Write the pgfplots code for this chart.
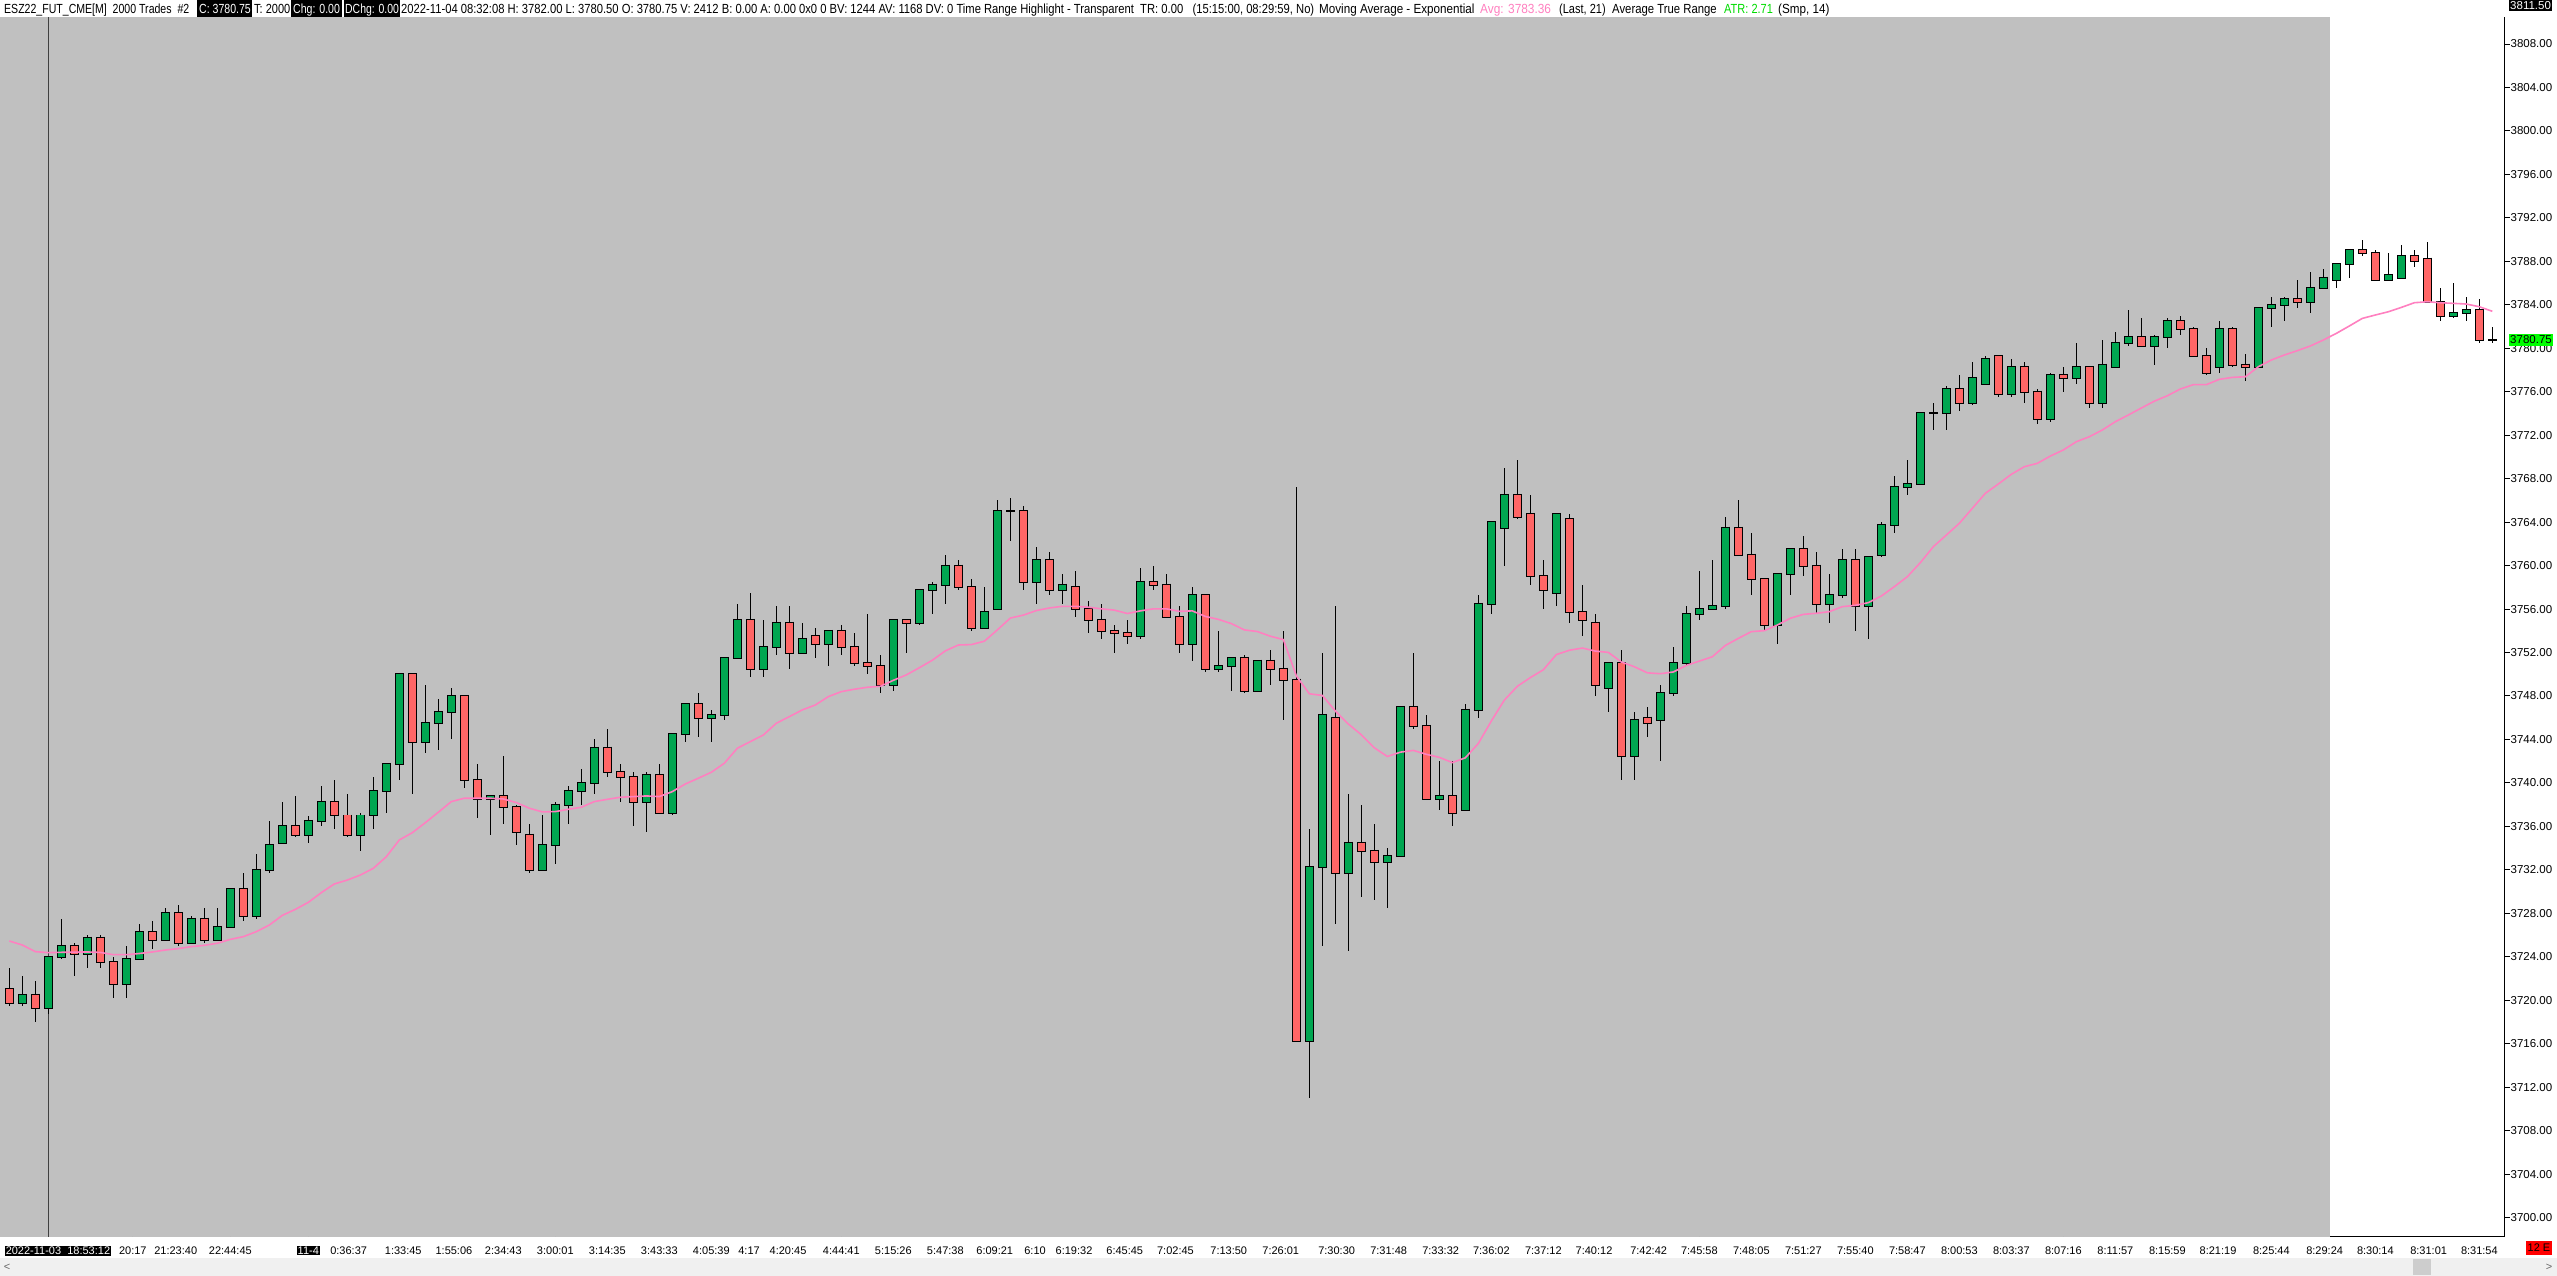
\documentclass[border=0pt]{standalone}
\usepackage{fontspec}
\setmainfont{Liberation Sans}
\usepackage{pgfplots}
\pgfplotsset{compat=1.18}
\usepackage{pgfplotstable}

\definecolor{bggray}{RGB}{192,192,192}
\definecolor{upgreen}{RGB}{0,166,81}
\definecolor{dnred}{RGB}{255,102,102}
\definecolor{emapink}{RGB}{255,128,192}
\definecolor{atrgreen}{RGB}{0,220,0}
\definecolor{cursorgray}{RGB}{64,64,64}
\definecolor{scrollbg}{RGB}{240,240,240}
\definecolor{thumbgray}{RGB}{205,205,205}

\newcommand\blk[1]{{\setlength\fboxsep{1pt}\colorbox{black}{\textcolor{white}{#1}}}}
\newcommand\hfont{\fontsize{11}{13}\selectfont}
% header text: stretched a little in height like the platform font
\newcommand\hdr[2]{\scalebox{#1}[1.2]{#2}}

% bar index, open, high, low, close, EMA(21)
\pgfplotstableread{
i o h l c e
0 3721 3723 3719.5 3719.75 3725.45
1 3719.75 3722.25 3719.5 3720.5 3725.08
2 3720.5 3721.75 3718 3719.25 3724.47
3 3719.25 3724 3718.75 3724 3724.38
4 3724 3727.5 3723.75 3725 3724.41
5 3725 3725.25 3722.25 3724.25 3724.43
6 3724.25 3726 3723 3725.75 3724.44
7 3725.75 3726 3723 3723.5 3724.40
8 3723.5 3724 3720.25 3721.5 3724.19
9 3721.5 3725 3720.25 3723.75 3724.19
10 3723.75 3727 3723.75 3726.25 3724.30
11 3726.25 3727.25 3724.75 3725.5 3724.44
12 3725.5 3728.5 3725.5 3728 3724.62
13 3728 3728.75 3725 3725.25 3724.75
14 3725.25 3727.75 3725.25 3727.5 3724.93
15 3727.5 3728.5 3725.25 3725.5 3725.05
16 3725.5 3728.5 3725.5 3726.75 3725.24
17 3726.75 3730.25 3726.75 3730.25 3725.60
18 3730.25 3731.75 3727.25 3727.75 3725.85
19 3727.75 3733.5 3727.5 3732 3726.31
20 3732 3736.5 3731.75 3734.25 3726.92
21 3734.5 3738.25 3734.5 3736 3727.81
22 3736 3738.75 3735 3735.25 3728.36
23 3735.25 3737 3734.5 3736.5 3729.01
24 3736.5 3739.75 3736 3738.25 3729.90
25 3738.25 3740.25 3735.75 3737 3730.70
26 3737 3739 3735 3735.25 3731.06
27 3735.25 3737.25 3733.75 3737 3731.52
28 3737 3740.5 3735.75 3739.25 3732.14
29 3739.25 3741.75 3737.25 3741.75 3733.21
30 3741.75 3750 3740.25 3750 3734.75
31 3750 3750 3739 3743.75 3735.42
32 3743.75 3749 3742.75 3745.5 3736.34
33 3745.5 3747.75 3743 3746.5 3737.30
34 3746.5 3748.75 3744 3748 3738.28
35 3748 3748 3739.5 3740.25 3738.59
36 3740.25 3741.75 3736.75 3738.5 3738.59
37 3738.5 3738.75 3735.25 3738.75 3738.59
38 3738.75 3742.5 3736.25 3737.75 3738.52
39 3737.75 3738 3734.25 3735.5 3738.19
40 3735.25 3736.25 3731.75 3732 3737.67
41 3732 3737 3732 3734.25 3737.33
42 3734.25 3738.25 3732.5 3738 3737.36
43 3738 3739.75 3736.25 3739.25 3737.57
44 3739.25 3741.25 3738 3740 3737.76
45 3740 3744 3739 3743.25 3738.28
46 3743.25 3745 3740.5 3741 3738.49
47 3741 3741.75 3738.25 3740.5 3738.68
48 3740.5 3741 3736 3738.25 3738.74
49 3738.25 3741 3735.5 3740.75 3738.80
50 3740.75 3741.75 3737.25 3737.25 3738.74
51 3737.25 3744.5 3737 3744.5 3739.20
52 3744.5 3747.25 3743.75 3747.25 3739.90
53 3747.25 3748.25 3744.25 3746 3740.43
54 3746 3746.75 3743.75 3746.25 3740.98
55 3746.25 3751.5 3745.75 3751.5 3741.81
56 3751.5 3756.5 3751.5 3755 3743.19
57 3755 3757.5 3749.75 3750.5 3743.80
58 3750.5 3755 3749.75 3752.5 3744.41
59 3752.5 3756.25 3751.75 3754.75 3745.49
60 3754.75 3756.25 3750.5 3752 3746.10
61 3752 3754.75 3752 3753.25 3746.72
62 3753.5 3754.25 3751.5 3752.75 3747.17
63 3752.75 3754 3750.75 3754 3747.94
64 3754 3754.5 3751.75 3752.5 3748.40
65 3752.5 3753.75 3750.75 3751 3748.62
66 3751 3755.5 3750 3750.75 3748.80
67 3750.75 3751.75 3748.25 3749 3748.89
68 3749 3755 3748.5 3755 3749.44
69 3755 3755 3752 3754.75 3749.94
70 3754.75 3757.75 3754.5 3757.75 3750.60
71 3757.75 3758.5 3755.5 3758.25 3751.29
72 3758.25 3761 3756.5 3760 3752.15
73 3760 3760.5 3757.75 3758 3752.69
74 3758 3758.75 3754 3754.25 3752.73
75 3754.25 3758 3754.25 3755.75 3753.04
76 3756 3766 3756 3765 3754.08
77 3765 3766.25 3762.25 3765 3755.17
78 3765 3765.5 3757.75 3758.5 3755.44
79 3758.5 3761.75 3756.5 3760.5 3755.86
80 3760.5 3761.25 3757.25 3757.75 3756.10
81 3757.75 3759.25 3756.5 3758.25 3756.25
82 3758 3759.5 3755.25 3756 3756.25
83 3756 3756.75 3753.75 3755 3756.17
84 3755 3756.5 3753.25 3754 3756.02
85 3754 3754.5 3752 3753.75 3755.90
86 3753.75 3755 3752.75 3753.5 3755.59
87 3753.5 3759.75 3753.25 3758.5 3755.83
88 3758.5 3760 3757.75 3758.25 3756.02
89 3758.25 3759.25 3755.25 3755.25 3756.02
90 3755.25 3756.25 3752 3752.75 3755.79
91 3752.75 3758 3751.25 3757.25 3755.83
92 3757.25 3757.25 3750.25 3750.5 3755.32
93 3750.5 3754 3750.25 3750.75 3755.05
94 3750.75 3751.5 3748.5 3751.5 3754.66
95 3751.5 3751.75 3748.25 3748.5 3754.08
96 3748.5 3751.25 3748.5 3751.25 3753.93
97 3751.25 3752.25 3749 3750.5 3753.50
98 3750.5 3754 3745.75 3749.5 3753.19
99 3749.5 3767.25 3716.25 3716.25 3749.85
100 3716.25 3735.75 3711 3732.25 3748.20
101 3732.25 3752 3725 3746.25 3748.05
102 3746 3756.25 3727 3731.75 3746.62
103 3731.75 3739 3724.5 3734.5 3745.42
104 3734.5 3738 3729.5 3733.75 3744.43
105 3733.75 3736.25 3729.25 3732.75 3743.23
106 3732.75 3734 3728.5 3733.25 3742.43
107 3733.25 3747 3733.25 3747 3742.83
108 3747 3752 3745 3745.25 3742.99
109 3745.25 3746.25 3738.5 3738.5 3742.63
110 3738.5 3742 3737.5 3738.75 3742.35
111 3738.75 3742 3736 3737.25 3741.87
112 3737.5 3747.25 3737.5 3746.75 3742.31
113 3746.75 3757.25 3746 3756.5 3743.63
114 3756.5 3764 3755.5 3764 3745.70
115 3763.5 3769 3760 3766.5 3747.62
116 3766.5 3769.75 3764.25 3764.5 3748.89
117 3764.75 3766.5 3758.25 3759 3749.69
118 3759 3760.5 3756 3757.75 3750.41
119 3757.5 3764.75 3756.25 3764.75 3751.81
120 3764.25 3764.75 3754.75 3755.75 3752.21
121 3755.75 3758.25 3753.5 3755 3752.41
122 3754.75 3755.5 3748 3749 3752.13
123 3748.75 3751 3746.5 3751 3752.01
124 3751 3752.25 3740.25 3742.5 3751.13
125 3742.5 3746.5 3740.25 3745.75 3750.69
126 3746 3747 3744.25 3745.5 3750.13
127 3745.75 3749 3742 3748.25 3750.05
128 3748.25 3752.5 3748 3751 3750.21
129 3751 3756.25 3750.75 3755.5 3750.81
130 3755.5 3759.5 3755 3756 3751.21
131 3756 3760.5 3756 3756.25 3751.61
132 3756.25 3764.5 3756 3763.5 3752.65
133 3763.5 3766 3761 3761 3753.30
134 3761 3763 3757.25 3758.75 3753.92
135 3758.75 3758.75 3754 3754.5 3754.01
136 3754.5 3759.25 3752.75 3759.25 3754.53
137 3759.25 3761.5 3757.25 3761.5 3755.15
138 3761.5 3762.75 3759 3760 3755.51
139 3760 3761.25 3755.5 3756.5 3755.61
140 3756.5 3759.25 3754.75 3757.25 3755.76
141 3757.25 3761.5 3757 3760.5 3756.22
142 3760.5 3761.5 3754 3756.25 3756.34
143 3756.25 3760.75 3753.25 3760.75 3756.59
144 3761 3764 3760.75 3763.75 3757.20
145 3763.75 3768.25 3763 3767.25 3758.06
146 3767.25 3769.75 3766.5 3767.5 3758.98
147 3767.5 3774 3767.5 3774 3760.27
148 3774 3775 3772.5 3774 3761.74
149 3774 3776.5 3772.5 3776.25 3762.81
150 3776.25 3777.5 3774.25 3775 3763.89
151 3775 3778.75 3774.75 3777.25 3765.27
152 3776.75 3779.25 3776.75 3779 3766.65
153 3779.25 3779.25 3775.5 3775.75 3767.51
154 3775.75 3779 3775.5 3778.25 3768.40
155 3778.25 3778.75 3775 3776 3769.10
156 3776 3776.25 3773 3773.5 3769.41
157 3773.5 3777.75 3773.25 3777.5 3770.08
158 3777.5 3778.25 3776 3777.25 3770.64
159 3777.25 3780.5 3776.75 3778.25 3771.40
160 3778.25 3778.25 3774.5 3775 3771.86
161 3775 3780.75 3774.5 3778.5 3772.48
162 3778.25 3781.5 3778.25 3780.5 3773.24
163 3780.5 3783.5 3780.25 3781 3773.86
164 3781 3782.75 3780.25 3780.25 3774.50
165 3780.25 3781.25 3778.5 3781 3775.13
166 3781 3782.75 3780 3782.5 3775.63
167 3782.5 3783 3781.25 3781.75 3776.25
168 3781.75 3782 3779.25 3779.25 3776.65
169 3779.25 3780 3777.5 3777.75 3776.65
170 3778.25 3782.5 3777.75 3781.75 3777.14
171 3781.75 3782 3778.25 3778.5 3777.32
172 3778.5 3779.5 3777 3778.25 3777.38
173 3778.25 3783.75 3778.25 3783.75 3778.30
174 3783.75 3784.75 3782 3784 3778.92
175 3784 3784.75 3782.5 3784.5 3779.38
176 3784.5 3786.25 3783.75 3784.25 3779.78
177 3784.25 3787 3783.25 3785.5 3780.21
178 3785.5 3787.25 3785.5 3786.5 3780.76
179 3786.25 3787.75 3785.5 3787.75 3781.37
180 3787.75 3789 3786.5 3789 3782.05
181 3789 3790 3788.5 3788.75 3782.75
182 3788.75 3789 3786.25 3786.25 3783.06
183 3786.25 3788.75 3786.25 3786.75 3783.36
184 3786.5 3789.5 3786.5 3788.5 3783.76
185 3788.5 3789 3787.5 3788 3784.19
186 3788.25 3789.75 3784.25 3784.25 3784.28
187 3784.25 3785.5 3782.5 3783 3784.19
188 3783 3786 3782.75 3783.25 3784.13
189 3783.25 3784.75 3782.5 3783.5 3784.07
190 3783.5 3784.5 3780.5 3780.75 3783.82
191 3780.75 3782 3780.5 3780.75 3783.40
}\bars

\begin{document}
\begin{tikzpicture}[x=1pt,y=1pt]
\fill[white] (0,0) rectangle (2557,1276);

% scroll bar strip
\fill[scrollbg] (0,0) rectangle (2557,18);
\fill[thumbgray] (2413,1) rectangle (2431,17);
\node[text=black!60, font=\hfont] at (7,9) {\textless};
\node[text=black!60, font=\hfont] at (2549,9) {\textgreater};

\begin{axis}[
  at={(0pt,39pt)}, anchor=south west,
  x=13pt, y=10.866pt,
  xmin=-0.718, xmax=191.97,
  ymin=3698.21, ymax=3810.49,
  axis x line=bottom, axis y line=right,
  axis line style={-, black, line width=1pt},
  tick align=outside,
  ytick={3700,3704,...,3808},
  ytick style={black, line width=1pt},
  major tick length=5pt,
  yticklabel style={font=\fontsize{11.5}{13}\selectfont, anchor=west, inner sep=0pt, xshift=0.5pt},
  /pgf/number format/.cd, fixed, fixed zerofill, precision=2, 1000 sep={}, assume math mode=true,
  /pgfplots/.cd,
  xtick style={draw=none},
  xtick={3.74,9.5,12.8,17,23,26.1,30.3,34.2,38,42,46,50,54,56.9,59.9,64,68,72,75.8,78.9,81.9,85.8,89.7,93.8,97.8,102.1,106.1,110.1,114,118,121.9,126.1,130,134,138,142,146,150,154,158,162,166,169.9,174,178.1,182,186.1,190},
  xticklabels={\blk{2022-11-03\ \ 18:53:12},20:17,21:23:40,22:44:45,\blk{11-4},0:36:37,1:33:45,1:55:06,2:34:43,3:00:01,3:14:35,3:43:33,4:05:39,4:17,4:20:45,4:44:41,5:15:26,5:47:38,6:09:21,6:10,6:19:32,6:45:45,7:02:45,7:13:50,7:26:01,7:30:30,7:31:48,7:33:32,7:36:02,7:37:12,7:40:12,7:42:42,7:45:58,7:48:05,7:51:27,7:55:40,7:58:47,8:00:53,8:03:37,8:07:16,8:11:57,8:15:59,8:21:19,8:25:44,8:29:24,8:30:14,8:31:01,8:31:54},
  xticklabel style={font=\fontsize{11}{13}\selectfont, anchor=base, yshift=-12.5pt},
]

% chart background (grey up to the session highlight end)
\fill[bggray] (axis cs:-0.718,3698.21) rectangle (axis cs:178.5,3810.49);

% cursor line
\draw[cursorgray, line width=1pt] (axis cs:3,3698.21) -- (axis cs:3,3810.49);

% wicks
\addplot[draw=none, mark=none, forget plot,
  error bars/.cd, y dir=both, y explicit, error mark=none,
  error bar style={draw=black, line width=1pt}]
  table[x=i, y=c, y error plus expr=\thisrow{h}-\thisrow{c},
        y error minus expr=\thisrow{c}-\thisrow{l}] {\bars};

% body outlines
\addplot[draw=none, mark=none, forget plot,
  error bars/.cd, y dir=minus, y explicit, error mark=none,
  error bar style={draw=black, line width=8.4pt}]
  table[x=i, y expr={max(\thisrow{o},\thisrow{c})+0.092},
        y error minus expr={abs(\thisrow{o}-\thisrow{c})+0.184}] {\bars};

% rising bodies
\addplot[draw=none, mark=none, forget plot, restrict x to domain=-1:200,
  error bars/.cd, y dir=minus, y explicit, error mark=none,
  error bar style={draw=upgreen, line width=6.4pt}]
  table[x expr={ifthenelse(\thisrow{c}>\thisrow{o},\thisrow{i},-100)}, y=c,
        y error minus expr={\thisrow{c}-\thisrow{o}}] {\bars};

% falling bodies
\addplot[draw=none, mark=none, forget plot, restrict x to domain=-1:200,
  error bars/.cd, y dir=minus, y explicit, error mark=none,
  error bar style={draw=dnred, line width=6.4pt}]
  table[x expr={ifthenelse(\thisrow{c}<\thisrow{o},\thisrow{i},-100)}, y=o,
        y error minus expr={\thisrow{o}-\thisrow{c}}] {\bars};

% exponential moving average
\addplot[emapink, line width=1.6pt, mark=none] table[x=i, y=e] {\bars};

% selected time-scale tick marks
\draw[black, line width=1pt] (axis cs:9.5,3698.21) -- ++(0pt,-5pt);
\draw[black, line width=1pt] (axis cs:17,3698.21) -- ++(0pt,-5pt);
\draw[black, line width=1pt] (axis cs:23,3698.21) -- ++(0pt,-5pt);
\draw[black, line width=1pt] (axis cs:42,3698.21) -- ++(0pt,-5pt);
\draw[black, line width=1pt] (axis cs:64,3698.21) -- ++(0pt,-5pt);
\draw[black, line width=1pt] (axis cs:130,3698.21) -- ++(0pt,-5pt);
\draw[black, line width=1pt] (axis cs:158,3698.21) -- ++(0pt,-5pt);
\draw[black, line width=1pt] (axis cs:186.1,3698.21) -- ++(0pt,-5pt);
\end{axis}

% price boxes on the scale
\node[fill=green, text=black, font=\fontsize{11.5}{13}\selectfont, inner xsep=1pt, inner ysep=1.5pt, anchor=west] at (2509,936) {3780.75};
\node[fill=black, text=white, font=\fontsize{11.5}{13}\selectfont, inner xsep=1pt, inner ysep=1.5pt, anchor=north west] at (2509,1276) {3811.50};
\node[fill=red, text=black, font=\hfont, inner xsep=2pt, inner ysep=3pt] at (2539,28) {12 E};

% header line
\fill[white] (0,1259) rectangle (2505,1276);
\fill[black] (197,1259) rectangle (252,1276);
\fill[black] (291,1259) rectangle (342,1276);
\fill[black] (343.5,1259) rectangle (400,1276);
\begin{scope}[every node/.style={anchor=base west, inner sep=0pt, font=\hfont}]
\node at (4,1262) {\hdr{0.96}{ESZ22\_FUT\_CME[M]\ \ 2000 Trades\ \ \#2}};
\node[text=white] at (199,1262) {\hdr{0.96}{C: 3780.75}};
\node at (254,1262) {\hdr{1}{T: 2000}};
\node[text=white] at (293,1262) {\hdr{0.96}{Chg: 0.00}};
\node[text=white] at (345,1262) {\hdr{0.95}{DChg: 0.00}};
\node at (401,1262) {\hdr{1.02}{2022-11-04 08:32:08 H: 3782.00 L: 3780.50 O: 3780.75 V: 2412 B: 0.00 A: 0.00 0x0 0 BV: 1244 AV: 1168 DV: 0 Time Range Highlight - Transparent\ \ TR: 0.00\ \ \ (15:15:00, 08:29:59, No)}};
\node at (1319,1262) {\hdr{1.06}{Moving Average - Exponential}};
\node[text=emapink] at (1480,1262) {\hdr{1.08}{Avg: 3783.36}};
\node at (1559,1262) {\hdr{1}{(Last, 21)}};
\node at (1612,1262) {\hdr{1.03}{Average True Range}};
\node[text=atrgreen] at (1724,1262) {\hdr{1}{ATR: 2.71}};
\node at (1778,1262) {\hdr{1.06}{(Smp, 14)}};
\end{scope}

\pgfresetboundingbox
\useasboundingbox (0,0) rectangle (2557,1276);
\end{tikzpicture}
\end{document}
